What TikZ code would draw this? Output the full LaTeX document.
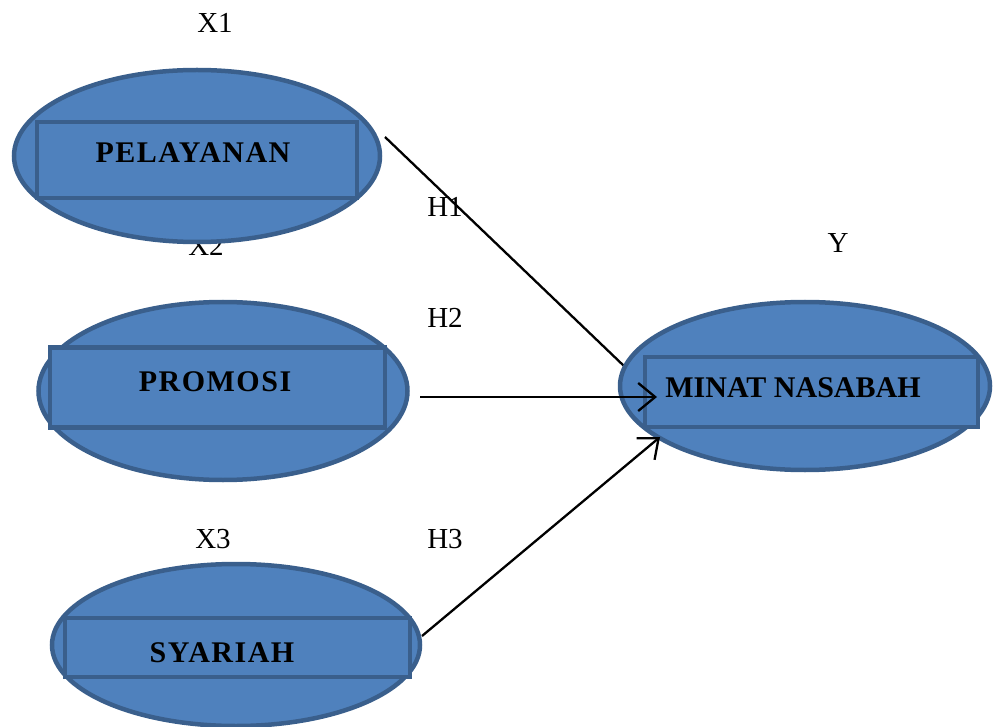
\documentclass[tikz,border=0pt]{standalone}
\usepackage{fontspec}
\setmainfont{Liberation Serif}
\usetikzlibrary{shapes.geometric,arrows.meta}
\definecolor{fillblue}{HTML}{4F81BD}
\definecolor{edgeblue}{HTML}{3A5F8C}
\tikzset{
  oval/.style={ellipse, draw=edgeblue, fill=fillblue, line width=4.5pt, inner sep=0pt},
  band/.style={rectangle, draw=edgeblue, fill=fillblue, line width=4.5pt, inner sep=0pt},
  boxtext/.style={font=\fontsize{30}{36}\selectfont\bfseries, anchor=base, inner sep=0pt},
  spaced/.style={font=\fontsize{30}{36}\selectfont\bfseries\addfontfeatures{LetterSpace=5}},
  lbl/.style={font=\fontsize{29}{35}\selectfont, anchor=base, inner sep=0pt},
  link/.style={line width=2.3pt, black},
  arr/.style={link, -{Straight Barb[length=17pt, width=28pt]}}
}
\begin{document}
\begin{tikzpicture}[x=1pt, y=-1pt]
\useasboundingbox (0,0) rectangle (993,727);
% labels behind shapes
\node[lbl] (x1) at (215,33) {X1};
\node[lbl] (x2) at (206,256) {X2};
\node[lbl] (y) at (838,253) {Y};
\node[lbl] (h1) at (445,217) {H1};
\node[lbl] (h2) at (445,327) {H2};
\node[lbl] (h3) at (445,548) {H3};
\node[lbl] (x3) at (213,548) {X3};
% connector H1 (below target ellipse)
\coordinate (h1s) at (385,137);
\coordinate (h1e) at (624,366);
\draw[link] (h1s) -- (h1e);
% ellipses
\node[oval, minimum width=366, minimum height=172] (e1) at (197,156) {};
\node[band, minimum width=320, minimum height=76] (r1) at (197,160) {};
\node[boxtext, spaced] (t1) at (193,163) {PELAYANAN};

\node[oval, minimum width=369, minimum height=178] (e2) at (223,391) {};
\node[band, minimum width=335, minimum height=80] (r2) at (217.5,387.5) {};
\node[boxtext, spaced] (t2) at (215,391) {PROMOSI};

\node[oval, minimum width=368, minimum height=162] (e3) at (236,645) {};
\node[band, minimum width=345, minimum height=59] (r3) at (237.5,647.5) {};
\node[boxtext, spaced] (t3) at (222,662) {SYARIAH};

\node[oval, minimum width=370, minimum height=168] (e4) at (805,386) {};
\node[band, minimum width=333, minimum height=70] (r4) at (811.5,392) {};
\node[boxtext] (t4) at (793,397) {MINAT NASABAH};
% arrows
\coordinate (h2s) at (420,397);
\coordinate (h2e) at (657,397);
\draw[arr] (h2s) -- (h2e);
\coordinate (h3s) at (422,636);
\coordinate (h3e) at (660,437);
\draw[arr] (h3s) -- (h3e);
\end{tikzpicture}
\end{document}
